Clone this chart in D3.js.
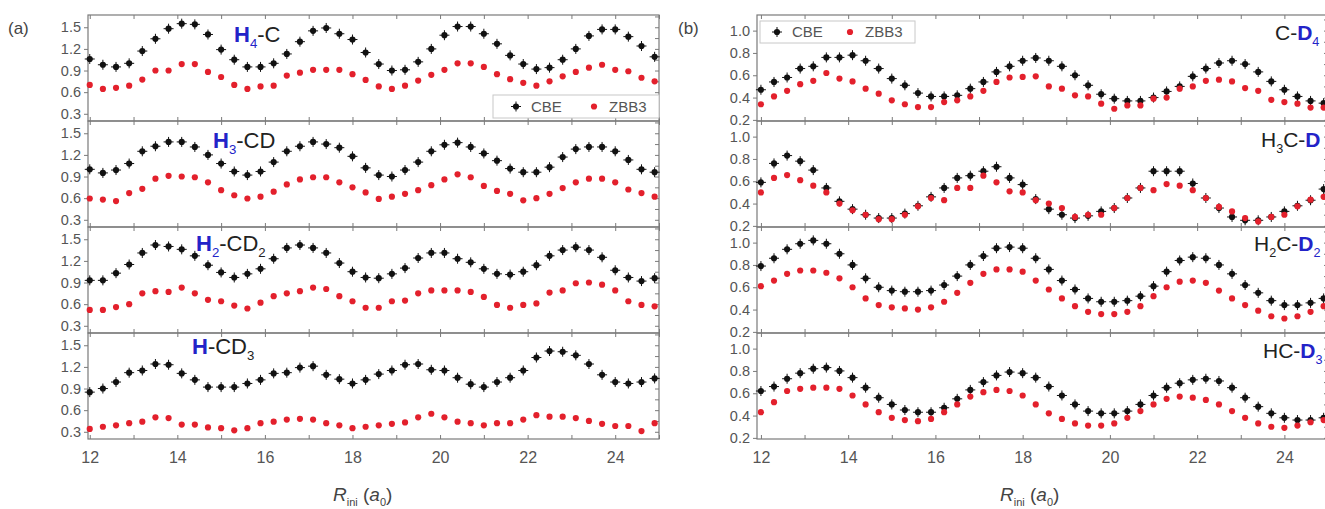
<!DOCTYPE html>
<html lang="en">
<head>
    <meta charset="UTF-8">
    <title>CBE vs ZBB3</title>
    <script src="https://d3js.org/d3.v7.min.js"></script>
    <style>
        body { margin: 0; background: #fff; }
    </style>
</head>
<body>
    <div id="chart"></div>
    <script>
        // R_ini values (a0)
        const rIni = [12.0, 12.3, 12.6, 12.9, 13.2, 13.5, 13.8, 14.1, 14.4, 14.7, 15.0, 15.3, 15.6, 15.9, 16.2,
            16.5, 16.8, 17.1, 17.4, 17.7, 18.0, 18.3, 18.6, 18.9, 19.2, 19.5, 19.8, 20.1, 20.4, 20.7, 21.0,
            21.3, 21.6, 21.9, 22.2, 22.5, 22.8, 23.1, 23.4, 23.7, 24.0, 24.3, 24.6, 24.9];

        const xTicks = [12, 14, 16, 18, 20, 22, 24];
        const yTicksA = [0.3, 0.6, 0.9, 1.2, 1.5];
        const yTicksB = [0.2, 0.4, 0.6, 0.8, 1.0];
        const seriesNames = ["CBE", "ZBB3"];

        // panel (a)
        const cbeH4C = [1.06, 0.98, 0.95, 1.00, 1.17, 1.34, 1.48, 1.55, 1.54, 1.40, 1.19, 1.05, 0.95, 0.95, 1.00, 1.13, 1.30, 1.45, 1.49, 1.41, 1.33, 1.15,
            0.99, 0.90, 0.91, 1.02, 1.20, 1.39, 1.51, 1.51, 1.41, 1.27, 1.11, 0.99, 0.92, 0.94, 1.05, 1.20, 1.38, 1.47, 1.47, 1.37, 1.24, 1.09];
        const zbbH4C = [0.70, 0.645, 0.66, 0.69, 0.775, 0.90, 0.90, 0.99, 0.99, 0.88, 0.81, 0.70, 0.645, 0.68, 0.69, 0.83, 0.87, 0.91, 0.91, 0.91, 0.85, 0.77,
            0.68, 0.645, 0.69, 0.76, 0.84, 0.91, 1.00, 1.00, 0.95, 0.85, 0.78, 0.73, 0.69, 0.75, 0.82, 0.88, 0.94, 0.98, 0.91, 0.89, 0.80, 0.75];
        const cbeH3CD = [1.00, 0.95, 0.99, 1.08, 1.25, 1.32, 1.38, 1.38, 1.31, 1.20, 1.08, 0.97, 0.92, 0.97, 1.10, 1.25, 1.32, 1.38, 1.35, 1.30, 1.18, 1.02,
            0.92, 0.90, 0.99, 1.10, 1.25, 1.34, 1.37, 1.31, 1.22, 1.12, 1.01, 0.96, 0.96, 1.03, 1.17, 1.28, 1.31, 1.31, 1.25, 1.13, 1.00, 0.96];
        const zbbH3CD = [0.595, 0.58, 0.56, 0.67, 0.73, 0.87, 0.91, 0.90, 0.89, 0.82, 0.71, 0.64, 0.595, 0.62, 0.69, 0.79, 0.86, 0.89, 0.89, 0.82, 0.75, 0.68,
            0.59, 0.62, 0.66, 0.71, 0.78, 0.86, 0.93, 0.89, 0.77, 0.70, 0.66, 0.57, 0.60, 0.66, 0.74, 0.82, 0.87, 0.87, 0.82, 0.72, 0.67, 0.62];
        const cbeH2CD2 = [0.93, 0.93, 1.03, 1.15, 1.31, 1.42, 1.40, 1.36, 1.27, 1.14, 1.04, 0.97, 1.02, 1.09, 1.23, 1.38, 1.42, 1.38, 1.31, 1.17, 1.05, 0.97,
            0.96, 1.02, 1.10, 1.24, 1.31, 1.31, 1.23, 1.18, 1.09, 1.02, 1.01, 1.05, 1.14, 1.27, 1.35, 1.39, 1.35, 1.25, 1.07, 0.97, 0.92, 0.96];
        const zbbH2CD2 = [0.52, 0.52, 0.56, 0.60, 0.75, 0.78, 0.77, 0.83, 0.75, 0.66, 0.64, 0.58, 0.54, 0.62, 0.71, 0.75, 0.78, 0.83, 0.81, 0.71, 0.64, 0.55,
            0.55, 0.64, 0.65, 0.75, 0.79, 0.79, 0.79, 0.77, 0.70, 0.59, 0.55, 0.59, 0.61, 0.76, 0.79, 0.89, 0.90, 0.87, 0.79, 0.64, 0.59, 0.57];
        const cbeHCD3 = [0.85, 0.90, 0.99, 1.12, 1.15, 1.24, 1.23, 1.11, 1.02, 0.92, 0.92, 0.92, 0.97, 1.02, 1.11, 1.12, 1.19, 1.21, 1.09, 1.03, 0.97, 1.02,
            1.10, 1.15, 1.23, 1.24, 1.16, 1.15, 1.05, 0.96, 0.92, 0.99, 1.05, 1.15, 1.33, 1.42, 1.41, 1.36, 1.24, 1.09, 0.99, 0.97, 0.99, 1.04];
        const zbbHCD3 = [0.34, 0.37, 0.39, 0.42, 0.44, 0.50, 0.49, 0.40, 0.40, 0.36, 0.35, 0.32, 0.35, 0.42, 0.44, 0.47, 0.48, 0.47, 0.42, 0.39, 0.35, 0.37,
            0.39, 0.41, 0.43, 0.50, 0.55, 0.50, 0.44, 0.42, 0.39, 0.42, 0.42, 0.47, 0.53, 0.51, 0.51, 0.49, 0.45, 0.41, 0.38, 0.38, 0.31, 0.42];

        // panel (b)
        const cbeCD4 = [0.47, 0.54, 0.58, 0.66, 0.68, 0.76, 0.76, 0.78, 0.73, 0.66, 0.57, 0.51, 0.44, 0.41, 0.41, 0.42, 0.48, 0.54, 0.63, 0.68, 0.73, 0.755,
            0.73, 0.68, 0.60, 0.51, 0.43, 0.39, 0.37, 0.37, 0.40, 0.455, 0.50, 0.59, 0.66, 0.71, 0.73, 0.70, 0.63, 0.545, 0.47, 0.41, 0.37, 0.35];
        const zbbCD4 = [0.34, 0.41, 0.46, 0.52, 0.55, 0.62, 0.57, 0.545, 0.48, 0.435, 0.375, 0.34, 0.315, 0.315, 0.36, 0.375, 0.41, 0.46, 0.54, 0.58, 0.585, 0.59,
            0.50, 0.48, 0.42, 0.41, 0.345, 0.30, 0.33, 0.33, 0.39, 0.40, 0.48, 0.50, 0.55, 0.56, 0.545, 0.485, 0.46, 0.38, 0.36, 0.345, 0.31, 0.31];
        const cbeH3CD_b = [0.59, 0.76, 0.83, 0.78, 0.70, 0.54, 0.42, 0.35, 0.30, 0.27, 0.27, 0.31, 0.38, 0.46, 0.54, 0.63, 0.65, 0.69, 0.73, 0.63, 0.57, 0.44,
            0.35, 0.30, 0.27, 0.29, 0.33, 0.36, 0.45, 0.54, 0.69, 0.69, 0.69, 0.58, 0.45, 0.36, 0.28, 0.25, 0.25, 0.28, 0.33, 0.38, 0.43, 0.53];
        const zbbH3CD_b = [0.50, 0.63, 0.655, 0.61, 0.56, 0.50, 0.40, 0.34, 0.30, 0.26, 0.26, 0.30, 0.375, 0.45, 0.43, 0.54, 0.54, 0.65, 0.59, 0.51, 0.50, 0.43,
            0.40, 0.36, 0.28, 0.30, 0.30, 0.36, 0.45, 0.54, 0.52, 0.575, 0.56, 0.52, 0.45, 0.37, 0.33, 0.27, 0.24, 0.28, 0.30, 0.375, 0.435, 0.46];
        const cbeH2CD2_b = [0.79, 0.86, 0.94, 0.99, 1.02, 0.99, 0.90, 0.80, 0.68, 0.60, 0.57, 0.56, 0.56, 0.57, 0.62, 0.70, 0.80, 0.88, 0.95, 0.96, 0.95, 0.86,
            0.76, 0.66, 0.58, 0.50, 0.47, 0.47, 0.48, 0.52, 0.61, 0.74, 0.84, 0.87, 0.86, 0.80, 0.72, 0.62, 0.55, 0.48, 0.44, 0.44, 0.46, 0.50];
        const zbbH2CD2_b = [0.61, 0.66, 0.72, 0.75, 0.75, 0.73, 0.68, 0.60, 0.50, 0.44, 0.42, 0.41, 0.40, 0.42, 0.47, 0.55, 0.64, 0.72, 0.76, 0.76, 0.74, 0.66,
            0.58, 0.50, 0.43, 0.38, 0.36, 0.36, 0.38, 0.43, 0.52, 0.60, 0.65, 0.66, 0.64, 0.57, 0.50, 0.44, 0.39, 0.34, 0.32, 0.34, 0.38, 0.43];
        const cbeHCD3_b = [0.62, 0.66, 0.73, 0.78, 0.82, 0.83, 0.80, 0.74, 0.65, 0.56, 0.50, 0.45, 0.43, 0.43, 0.47, 0.55, 0.63, 0.70, 0.76, 0.79, 0.78, 0.74,
            0.66, 0.58, 0.50, 0.44, 0.42, 0.42, 0.44, 0.50, 0.58, 0.65, 0.69, 0.72, 0.73, 0.71, 0.65, 0.56, 0.48, 0.42, 0.38, 0.36, 0.36, 0.38];
        const zbbHCD3_b = [0.43, 0.52, 0.62, 0.64, 0.65, 0.65, 0.64, 0.58, 0.50, 0.43, 0.38, 0.36, 0.35, 0.37, 0.43, 0.50, 0.57, 0.61, 0.63, 0.62, 0.58, 0.50,
            0.42, 0.37, 0.33, 0.31, 0.31, 0.33, 0.38, 0.44, 0.50, 0.55, 0.57, 0.56, 0.54, 0.50, 0.44, 0.38, 0.33, 0.30, 0.29, 0.31, 0.34, 0.36];

        // label pieces: [text, blue, subscript]
        const blue = "#2323c8";
        const panels = [
            {
                tag: "(a)", tagX: 8, left: 88, right: 659, xDomain: [11.96, 25], yDomain: [0.2, 1.67], yTicks: yTicksA,
                titleX: 333, legend: { x: 493, y: 95, w: 166, h: 23, m: [516, 594] },
                rows: [
                    { cbe: cbeH4C, zbb: zbbH4C, lx: 234, ly: 42, size: 22,
                      label: [["H", 1, 0], ["4", 1, 1], ["-C", 0, 0]] },
                    { cbe: cbeH3CD, zbb: zbbH3CD, lx: 213, ly: 148, size: 22,
                      label: [["H", 1, 0], ["3", 1, 1], ["-CD", 0, 0]] },
                    { cbe: cbeH2CD2, zbb: zbbH2CD2, lx: 196, ly: 251, size: 22,
                      label: [["H", 1, 0], ["2", 1, 1], ["-CD", 0, 0], ["2", 0, 1]] },
                    { cbe: cbeHCD3, zbb: zbbHCD3, lx: 192, ly: 354, size: 22,
                      label: [["H", 1, 0], ["-CD", 0, 0], ["3", 0, 1]] }
                ]
            },
            {
                tag: "(b)", tagX: 678, left: 757, right: 1328, xDomain: [11.91, 25], yDomain: [0.19, 1.14], yTicks: yTicksB,
                titleX: 1000, legend: { x: 760, y: 21, w: 155, h: 22, m: [777, 850] },
                rows: [
                    { cbe: cbeCD4, zbb: zbbCD4, lx: 1275, ly: 40, size: 21,
                      label: [["C-", 0, 0], ["D", 1, 0], ["4", 1, 1]] },
                    { cbe: cbeH3CD_b, zbb: zbbH3CD_b, lx: 1261, ly: 147, size: 21,
                      label: [["H", 0, 0], ["3", 0, 1], ["C-", 0, 0], ["D", 1, 0]] },
                    { cbe: cbeH2CD2_b, zbb: zbbH2CD2_b, lx: 1254, ly: 251, size: 21,
                      label: [["H", 0, 0], ["2", 0, 1], ["C-", 0, 0], ["D", 1, 0], ["2", 1, 1]] },
                    { cbe: cbeHCD3_b, zbb: zbbHCD3_b, lx: 1263, ly: 358, size: 21,
                      label: [["HC-", 0, 0], ["D", 1, 0], ["3", 1, 1]] }
                ]
            }
        ];

        const W = 1325, H = 509;
        const top0 = 15, rowH = 106;
        const black = "#111", red = "#e3202c", axisGray = "#7a7a7a", textGray = "#555";

        const svg = d3.select("#chart").append("svg")
            .attr("width", W).attr("height", H)
            .style("font-family", "'Liberation Sans', Arial, sans-serif");

        // draws a series of markers
        function drawDots(g, x, y, vals, color, cross) {
            const pts = g.append("g").selectAll("g")
                .data(rIni.map((r, i) => [r, vals[i]]))
                .join("g")
                .attr("transform", d => `translate(${x(d[0])},${y(d[1])})`);
            if (cross) {
                pts.append("path")
                    .attr("d", "M0,-5V5M-5,0H5")
                    .attr("stroke", color).attr("stroke-width", 1);
            }
            pts.append("circle").attr("r", 3.1).attr("fill", color);
        }

        function drawLabel(g, row) {
            const t = g.append("text").attr("x", row.lx).attr("y", row.ly)
                .attr("font-size", row.size).attr("fill", "#222");
            let shifted = false;
            row.label.forEach(([s, isBlue, isSub]) => {
                const sp = t.append("tspan").text(s)
                    .attr("fill", isBlue ? blue : "#222")
                    .attr("font-weight", isBlue && !isSub ? "bold" : "normal");
                if (isSub && !shifted) { sp.attr("dy", 6).attr("font-size", row.size * 0.6); shifted = true; }
                else if (isSub) { sp.attr("font-size", row.size * 0.6); }
                else if (shifted) { sp.attr("dy", -6); shifted = false; }
            });
        }

        function drawLegend(g, lg, fs) {
            g.append("rect").attr("x", lg.x).attr("y", lg.y).attr("width", lg.w).attr("height", lg.h)
                .attr("fill", "#fff").attr("stroke", "#c8c8c8").attr("stroke-width", 1);
            const cy = lg.y + lg.h / 2;
            seriesNames.forEach((name, i) => {
                const ox = lg.m[i];
                const c = i === 0 ? black : red;
                if (i === 0) g.append("path").attr("d", `M${ox},${cy - 5}V${cy + 5}M${ox - 5},${cy}H${ox + 5}`)
                    .attr("stroke", c).attr("stroke-width", 1);
                g.append("circle").attr("cx", ox).attr("cy", cy).attr("r", 3.1).attr("fill", c);
                g.append("text").attr("x", ox + 15).attr("y", cy + fs * 0.36)
                    .attr("font-size", fs).attr("fill", textGray).text(name);
            });
        }

        panels.forEach((p, pi) => {
            const x = d3.scaleLinear().domain(p.xDomain).range([p.left, p.right]);
            const intTicks = d3.range(12, 26);

            p.rows.forEach((row, k) => {
                const y0 = top0 + k * rowH, y1 = y0 + rowH;
                const y = d3.scaleLinear().domain(p.yDomain).range([y1, y0]);
                const g = svg.append("g");
                const minorY = d3.range(p.yTicks[0], p.yDomain[1], (p.yTicks[1] - p.yTicks[0]) / 2);

                // inward ticks on all sides
                g.append("g").attr("transform", `translate(0,${y0})`)
                    .call(d3.axisTop(x).tickValues(intTicks).tickSize(-4).tickFormat(""));
                g.append("g").attr("transform", `translate(0,${y1})`)
                    .call(d3.axisBottom(x).tickValues(intTicks).tickSize(-4).tickFormat(""));
                g.append("g").attr("transform", `translate(${p.right},0)`)
                    .call(d3.axisRight(y).tickValues(minorY).tickSize(-4).tickFormat(""));
                // left axis with labels
                g.append("g").attr("transform", `translate(${p.left},0)`)
                    .call(d3.axisLeft(y).tickValues(p.yTicks).tickSize(4).tickPadding(3).tickFormat(d3.format(".1f")))
                    .call(a => a.selectAll("text").attr("font-size", 14.5).attr("fill", textGray)
                        .attr("font-family", "'Liberation Sans', Arial, sans-serif"));
                g.selectAll(".domain").remove();
                g.selectAll(".tick line").attr("stroke", axisGray);

                g.append("rect").attr("x", p.left).attr("y", y0)
                    .attr("width", p.right - p.left).attr("height", rowH)
                    .attr("fill", "none").attr("stroke", axisGray).attr("stroke-width", 1.2);

                drawDots(g, x, y, row.cbe, black, true);
                drawDots(g, x, y, row.zbb, red, false);
                drawLabel(g, row);

                if (k === 0) drawLegend(g, p.legend, 15);
            });

            // bottom x tick labels
            const yb = top0 + 4 * rowH;
            svg.append("g").attr("transform", `translate(0,${yb})`)
                .call(d3.axisBottom(x).tickValues(xTicks).tickSize(0).tickPadding(13))
                .call(a => a.select(".domain").remove())
                .call(a => a.selectAll("text").attr("font-size", 16).attr("fill", textGray)
                    .attr("font-family", "'Liberation Sans', Arial, sans-serif"));

            // axis title
            const tt = svg.append("text").attr("x", p.titleX).attr("y", 501)
                .attr("font-size", 19).attr("fill", "#444");
            tt.append("tspan").text("R").attr("font-style", "italic");
            tt.append("tspan").text("ini").attr("font-size", 11).attr("dy", 5);
            tt.append("tspan").text(" (").attr("dy", -5);
            tt.append("tspan").text("a").attr("font-style", "italic");
            tt.append("tspan").text("0").attr("font-size", 11).attr("dy", 5);
            tt.append("tspan").text(")").attr("dy", -5);

            // panel tag
            svg.append("text").attr("x", p.tagX).attr("y", 34)
                .attr("font-size", 17).attr("fill", "#444").text(p.tag);
        });
    </script>
</body>
</html>
